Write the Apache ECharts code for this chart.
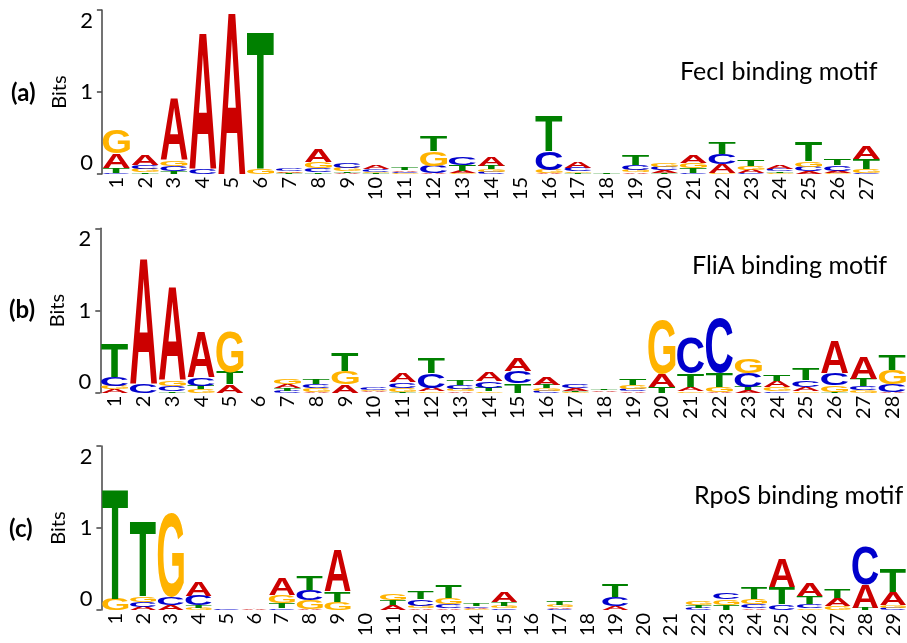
<!DOCTYPE html>
<html>
<head>
<meta charset="utf-8">
<script src="https://cdn.jsdelivr.net/npm/echarts@6/dist/echarts.min.js"></script>
<style>
html,body{margin:0;padding:0;background:#fff;}
#chart{width:907px;height:643px;}
</style>
</head>
<body>
<div id="chart"></div>
<script>
// ---------------- DATA (bits per nucleotide, per position) ----------------
const fecPositions = ['1','2','3','4','5','6','7','8','9','10','11','12','13','14','15','16','17','18','19','20','21','22','23','24','25','26','27'];
const fecA = [0.18,0.12,0.76,1.67,1.98,0.00,0.02,0.16,0.01,0.05,0.02,0.01,0.03,0.11,0.00,0.01,0.07,0.00,0.02,0.035,0.09,0.115,0.04,0.04,0.03,0.03,0.15];
const fecC = [0.01,0.05,0.065,0.07,0.00,0.00,0.03,0.05,0.07,0.03,0.015,0.09,0.10,0.025,0.00,0.23,0.04,0.00,0.06,0.04,0.01,0.12,0.01,0.035,0.06,0.07,0.01];
const fecG = [0.29,0.04,0.07,0.00,0.00,0.06,0.01,0.08,0.04,0.02,0.01,0.18,0.01,0.035,0.00,0.04,0.02,0.00,0.03,0.045,0.07,0.01,0.05,0.01,0.065,0.01,0.05];
const fecT = [0.06,0.02,0.03,0.00,0.00,1.68,0.008,0.02,0.02,0.01,0.03,0.19,0.07,0.04,0.00,0.43,0.01,0.02,0.12,0.01,0.06,0.14,0.07,0.02,0.24,0.075,0.12];

const fliPositions = ['1','2','3','4','5','6','7','8','9','10','11','12','13','14','15','16','17','18','19','20','21','22','23','24','25','26','27','28'];
const fliA = [0.04,1.54,1.13,0.56,0.10,0.00,0.05,0.01,0.10,0.01,0.11,0.04,0.02,0.11,0.16,0.09,0.03,0.02,0.02,0.16,0.05,0.01,0.03,0.07,0.05,0.40,0.26,0.01];
const fliC = [0.11,0.11,0.065,0.10,0.00,0.00,0.025,0.05,0.00,0.03,0.07,0.18,0.04,0.08,0.15,0.025,0.04,0.005,0.03,0.00,0.43,0.68,0.17,0.02,0.08,0.15,0.05,0.09];
const fliG = [0.045,0.00,0.07,0.04,0.49,0.00,0.055,0.045,0.16,0.02,0.05,0.02,0.03,0.02,0.00,0.03,0.01,0.005,0.04,0.66,0.02,0.06,0.175,0.05,0.02,0.08,0.03,0.18];
const fliT = [0.41,0.00,0.02,0.045,0.15,0.00,0.03,0.055,0.22,0.005,0.01,0.19,0.06,0.04,0.11,0.04,0.012,0.022,0.07,0.07,0.16,0.17,0.04,0.075,0.14,0.01,0.09,0.19];

const rpoPositions = ['1','2','3','4','5','6','7','8','9','10','11','12','13','14','15','16','17','18','19','20','21','22','23','24','25','26','27','28','29'];
const rpoA = [0.00,0.04,0.06,0.17,0.00,0.01,0.20,0.01,0.50,0.00,0.055,0.02,0.02,0.018,0.12,0.00,0.02,0.00,0.05,0.00,0.00,0.00,0.00,0.02,0.35,0.15,0.10,0.28,0.16];
const rpoC = [0.00,0.06,0.10,0.12,0.01,0.00,0.02,0.12,0.00,0.00,0.00,0.08,0.05,0.02,0.02,0.00,0.01,0.00,0.11,0.00,0.00,0.028,0.08,0.05,0.07,0.05,0.00,0.47,0.025];
const rpoG = [0.14,0.065,1.02,0.025,0.00,0.00,0.10,0.11,0.10,0.005,0.08,0.03,0.08,0.01,0.03,0.005,0.035,0.00,0.00,0.00,0.005,0.04,0.07,0.07,0.00,0.02,0.05,0.00,0.03];
const rpoT = [1.34,0.91,0.00,0.03,0.00,0.00,0.06,0.17,0.13,0.00,0.06,0.09,0.15,0.025,0.05,0.00,0.04,0.00,0.15,0.00,0.00,0.03,0.06,0.14,0.21,0.10,0.105,0.03,0.28];

const panelTitles = ['FecI binding motif', 'FliA binding motif', 'RpoS binding motif'];
const panelTags = ['(a)', '(b)', '(c)'];
const yTicks = [0, 1, 2];

// ---------------- STYLE ----------------
const letterColors = { A: '#cc0000', C: '#0000cc', G: '#ffb300', T: '#008000' };
const LOGO_FAMILY = '"Liberation Sans", Arial, sans-serif';
const TEXT_FAMILY = 'Lato, "Open Sans", sans-serif';

// measure glyph ink boxes so letters can be stretched to exact stack heights
const mctx = document.createElement('canvas').getContext('2d');
mctx.font = 'bold 100px ' + LOGO_FAMILY;
mctx.textAlign = 'center';
mctx.textBaseline = 'middle';
const glyph = {};
['A', 'C', 'G', 'T'].forEach(function (ch) {
  const m = mctx.measureText(ch);
  const l = m.actualBoundingBoxLeft, r = m.actualBoundingBoxRight;
  const a = m.actualBoundingBoxAscent, d = m.actualBoundingBoxDescent;
  glyph[ch] = { w: l + r, h: a + d, cx: (r - l) / 2, cy: (d - a) / 2 };
});

function buildData(A, C, G, T) {
  return A.map(function (v, i) { return [i, A[i], C[i], G[i], T[i]]; });
}

function renderLogo(params, api) {
  const i = api.value(0);
  const vals = [
    { ch: 'A', v: api.value(1) },
    { ch: 'C', v: api.value(2) },
    { ch: 'G', v: api.value(3) },
    { ch: 'T', v: api.value(4) }
  ];
  vals.sort(function (p, q) { return p.v - q.v; });
  const band = api.size([1, 0])[0];
  const w = band * 0.94;
  let cum = 0;
  const children = [];
  vals.forEach(function (it) {
    if (!(it.v > 0)) return;
    const p0 = api.coord([i, cum]);
    const p1 = api.coord([i, cum + it.v]);
    cum += it.v;
    const H = p0[1] - p1[1];
    const g = glyph[it.ch];
    const sx = w / g.w, sy = H / g.h;
    children.push({
      type: 'text',
      x: p0[0] - g.cx * sx,
      y: (p0[1] + p1[1]) / 2 - g.cy * sy,
      scaleX: sx,
      scaleY: sy,
      silent: true,
      style: {
        text: it.ch,
        fill: letterColors[it.ch],
        fontSize: 100,
        fontWeight: 'bold',
        fontFamily: LOGO_FAMILY,
        align: 'center',
        verticalAlign: 'middle'
      }
    });
  });
  return { type: 'group', children: children };
}

const grids = [
  { left: 101.9, top: 10, width: 779, height: 164 },
  { left: 100.3, top: 228.3, width: 806.4, height: 164.4 },
  { left: 101.4, top: 446, width: 809, height: 164 }
];
const cats = [fecPositions, fliPositions, rpoPositions];
const datas = [buildData(fecA, fecC, fecG, fecT), buildData(fliA, fliC, fliG, fliT), buildData(rpoA, rpoC, rpoG, rpoT)];

const option = {
  animation: false,
  backgroundColor: '#fff',
  grid: grids.map(function (g) { return Object.assign({ containLabel: false }, g); }),
  xAxis: cats.map(function (c, k) {
    return {
      type: 'category', gridIndex: k, data: c, boundaryGap: true,
      axisLine: { show: false }, axisTick: { show: false },
      axisLabel: { interval: 0, rotate: 90, margin: 3, fontSize: 20, color: '#000', fontFamily: TEXT_FAMILY }
    };
  }),
  yAxis: cats.map(function (c, k) {
    return {
      type: 'value', gridIndex: k, min: yTicks[0], max: yTicks[yTicks.length - 1], interval: 1,
      name: 'Bits', nameLocation: 'middle', nameGap: 31,
      nameTextStyle: { fontSize: 20, color: '#000', fontFamily: TEXT_FAMILY },
      axisLine: { show: true, lineStyle: { color: '#444', width: 1.5 } },
      axisTick: { show: true, length: 5, lineStyle: { color: '#444', width: 1.5 } },
      splitLine: { show: false },
      axisLabel: { fontSize: 22, color: '#000', margin: 9, fontFamily: TEXT_FAMILY,
        verticalAlignMinLabel: 'bottom', verticalAlignMaxLabel: 'top' }
    };
  }),
  graphic: [
    { type: 'text', left: 680, top: 59, style: { text: panelTitles[0], fontSize: 25, fill: '#000', fontFamily: TEXT_FAMILY } },
    { type: 'text', left: 692, top: 253, style: { text: panelTitles[1], fontSize: 25, fill: '#000', fontFamily: TEXT_FAMILY } },
    { type: 'text', left: 694, top: 483, style: { text: panelTitles[2], fontSize: 25, fill: '#000', fontFamily: TEXT_FAMILY } },
    { type: 'text', left: 11, top: 81, style: { text: panelTags[0], fontSize: 24, fontWeight: 'bold', fill: '#000', fontFamily: TEXT_FAMILY } },
    { type: 'text', left: 9, top: 298, style: { text: panelTags[1], fontSize: 24, fontWeight: 'bold', fill: '#000', fontFamily: TEXT_FAMILY } },
    { type: 'text', left: 9, top: 517, style: { text: panelTags[2], fontSize: 24, fontWeight: 'bold', fill: '#000', fontFamily: TEXT_FAMILY } }
  ],
  series: datas.map(function (d, k) {
    return {
      type: 'custom', xAxisIndex: k, yAxisIndex: k, data: d,
      renderItem: renderLogo, clip: false, silent: true,
      encode: { x: 0, y: [1, 2, 3, 4] }
    };
  })
};

const chart = echarts.init(document.getElementById('chart'), null, { renderer: 'canvas' });
chart.setOption(option);
</script>
</body>
</html>
